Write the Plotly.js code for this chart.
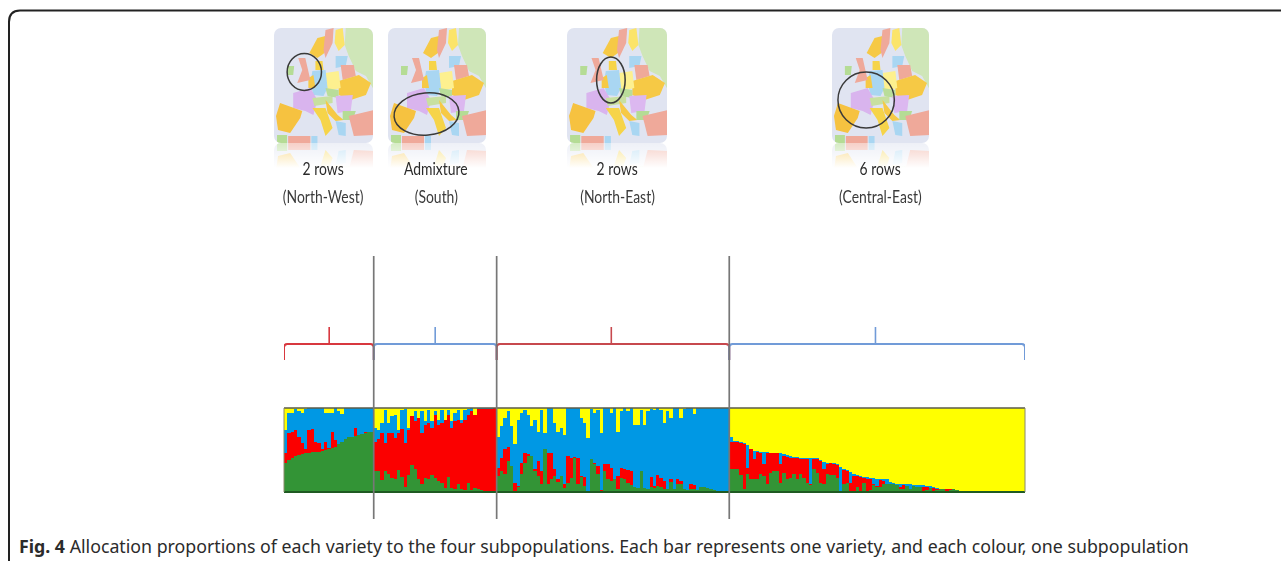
<!DOCTYPE html>
<html>
<head>
<meta charset="utf-8">
<script src="https://cdn.plot.ly/plotly-3.0.1.min.js"></script>
<style>
html,body{margin:0;padding:0;background:#fff;overflow:hidden}#chart{width:1281px;height:561px}
.barlayer{filter:blur(0.55px)}
.annotation:not(:last-of-type){filter:blur(0.35px)}
.annotation:not(:last-of-type) .annotation-text{transform-box:fill-box;transform-origin:center;transform:scaleX(.82)}
</style>
</head>
<body>
<div id="chart"></div>
<script>
// Allocation (%) of each variety to the four subpopulations.
var green = [
 35,38,41,43,44,45,47,47,48,48,48,49,50,51,52,53,57,60,63,66,66,67,68,69,70,71,72,
 25,25,14,25,22,17,15,26,18,6,20,32,27,15,10,17,15,20,17,13,11,5,18,5,4,9,3,2,11,2,5,4,2,1,0,0,0,
 19,25,21,37,31,1,6,21,35,43,43,25,19,9,51,9,15,19,12,19,5,11,17,41,9,18,7,0,39,33,21,0,25,15,13,15,4,17,15,11,8,6,5,25,5,3,6,5,7,6,4,3,12,3,9,9,3,2,4,4,2,6,6,5,4,2,1,0,0,0,
 27,27,27,20,3,21,15,15,15,21,19,9,23,25,25,11,23,15,17,21,15,21,17,11,8,27,23,11,9,21,20,20,17,0,9,11,0,1,6,1,11,1,2,8,6,6,9,9,10,10,8,3,4,7,3,7,6,6,1,2,5,1,2,3,3,1,2,3,2,1,1,1,0,0,0,0,0,0,0,0,0,0,0,0,0,0,0,0,0
];
var red = [
 12,32,31,31,22,13,4,27,27,12,10,2,10,1,20,9,0,0,0,0,0,9,0,0,2,0,0,
 35,38,56,33,48,53,49,44,57,52,54,58,57,73,60,63,67,56,75,67,71,81,74,71,80,77,79,84,81,94,87,95,97,98,99,99,100,
 10,16,30,17,0,10,1,14,12,2,0,2,18,16,0,38,32,8,3,0,4,32,24,1,32,1,11,1,0,2,10,2,8,18,16,0,15,12,12,15,17,0,0,0,0,0,12,2,13,11,9,0,3,1,6,4,0,0,5,4,0,0,0,0,0,0,0,0,0,0,
 33,33,32,38,54,8,36,24,33,26,14,38,24,22,22,22,20,27,24,19,26,18,22,28,1,12,16,26,18,12,14,13,15,1,17,14,11,18,13,17,6,15,13,1,1,8,4,1,0,0,0,3,4,0,0,0,0,0,5,4,0,4,2,0,0,2,1,0,0,0,0,0,0,0,0,0,0,0,0,0,0,0,0,0,0,0,0,0,0
];
var blue = [
 27,24,22,25,31,36,48,26,25,40,42,49,34,42,22,38,39,33,37,34,34,24,32,31,28,29,28,
 16,11,12,40,12,20,28,4,23,41,2,0,12,0,26,5,16,8,4,6,16,0,6,8,10,12,4,12,7,4,0,1,1,1,1,1,0,
 37,37,37,42,47,46,79,59,51,47,35,59,35,73,19,53,53,55,57,57,59,57,59,58,59,69,64,63,60,59,67,68,67,67,65,85,53,67,73,71,75,74,75,73,75,93,81,91,80,81,69,93,73,96,85,75,96,98,91,85,98,94,94,95,96,98,99,100,100,100,
 6,1,2,1,1,27,0,10,1,1,15,1,0,0,0,13,2,2,2,2,1,2,1,1,31,1,1,1,9,2,1,1,1,29,1,1,13,3,1,1,1,2,2,8,9,2,2,5,2,1,2,4,1,2,6,1,2,2,2,1,2,1,1,1,1,1,1,0,0,0,0,0,0,0,0,0,0,0,0,0,0,0,0,0,0,0,0,0,0
];
var yellow = [
 26,6,6,1,3,6,1,0,0,0,0,0,6,6,6,0,4,7,0,0,0,0,0,0,0,0,0,
 24,26,18,2,18,10,8,26,2,1,24,10,4,12,4,15,2,16,4,14,2,14,2,16,6,2,14,2,1,0,8,0,0,0,0,0,0,
 34,22,12,4,22,43,14,6,2,8,22,14,28,2,30,0,0,18,28,24,32,0,0,0,0,12,18,36,1,6,2,30,0,0,6,0,28,4,0,3,0,20,20,2,20,4,1,2,0,2,18,4,12,0,0,12,1,0,0,7,0,0,0,0,0,0,0,0,0,0,
 34,39,39,41,42,44,49,51,51,52,52,52,53,53,53,54,55,56,57,58,58,59,60,60,60,60,60,62,64,65,65,66,67,70,73,74,76,78,80,81,82,82,83,83,84,84,85,85,88,89,90,90,91,91,91,92,92,92,92,93,93,94,95,96,96,96,96,97,98,99,99,99,100,100,100,100,100,100,100,100,100,100,100,100,100,100,100,100,100
];
var groupEnds = [27, 64, 134, 223];
var groupTitles = ['2 rows', 'Admixture', '2 rows', '6 rows'];
var groupRegions = ['(North-West)', '(South)', '(North-East)', '(Central-East)'];
var caption = '<b>Fig. 4</b> Allocation proportions of each variety to the four subpopulations. Each bar represents one variety, and each colour, one subpopulation';

var W = 1281, H = 561;
function px(v){ return v / W; }
function py(v){ return 1 - v / H; }
var plotL = 284, plotR = 1025, plotT = 408, plotB = 492;

var xs = green.map(function(_, i){ return i + 0.5; });
function bars(name, vals, col){
  return {type:'bar', name:name, x:xs, y:vals, width:1, marker:{color:col, line:{width:0}}, hoverinfo:'skip'};
}
var traces = [
  bars('Subpopulation 1', green, '#339436'),
  bars('Subpopulation 2', red, '#fb0000'),
  bars('Subpopulation 3', blue, '#0098e4'),
  bars('Subpopulation 4', yellow, '#ffff00')
];

// stylised map thumbnails, drawn once and re-used
var regions = [
 ['#cfe6b8','M71 0 L99 0 L99 62 L91 48 L81 43 L74 28 L70 17Z'],
 ['#f6c945','M35 25 L43 10 L51 8 L50 25 L43 30Z'],
 ['#efa99a','M51 2 L59 0 L58 15 L51 30 L49 22Z'],
 ['#fbe46a','M61 2 L68 0 L70 17 L64 23 L60 15Z'],
 ['#a9d6f2','M61 28 L73 28 L71 38 L61 40Z'],
 ['#efa99a','M66 37 L79 37 L81 48 L68 52Z'],
 ['#f6c945','M64 53 L84 47 L96 55 L91 67 L76 72 L64 67Z'],
 ['#fdf08f','M51 45 L64 43 L66 60 L53 63Z'],
 ['#a9d6f2','M38 43 L51 42 L53 60 L49 68 L39 67 L36 55Z'],
 ['#f6d44a','M41 33 L48 33 L49 42 L41 42Z'],
 ['#f6c945','M34 50 L39 47 L41 60 L34 60Z'],
 ['#efa99a','M24 30 L31 30 L36 52 L23 55 L28 42Z'],
 ['#b5dc95','M13 38 L20 38 L19 47 L13 47Z'],
 ['#d9b4ee','M19 65 L36 60 L43 72 L39 87 L31 83 L19 80Z'],
 ['#f6c23f','M6 75 L28 83 L26 90 L16 105 L4 102 L2 88Z'],
 ['#c8e0a0','M38 70 L58 68 L58 75 L40 78Z'],
 ['#b9dd9a','M51 60 L64 62 L64 70 L53 68Z'],
 ['#f6d44a','M38 80 L51 80 L58 100 L51 108 L46 92Z'],
 ['#dcb8f0','M61 68 L78 67 L76 83 L63 85Z'],
 ['#f6c945','M51 72 L63 87 L69 92 L61 93 L53 85Z'],
 ['#b5dc95','M68 83 L81 83 L78 92 L68 92Z'],
 ['#a9d6f2','M61 93 L71 95 L71 108 L64 107Z'],
 ['#efa99a','M74 88 L99 82 L99 107 L79 108Z'],
 ['#b5dc95','M3 107 L13 107 L13 115 L3 115Z'],
 ['#efa99a','M14 108 L36 108 L36 115 L14 115Z'],
 ['#a9d6f2','M37 108 L43 108 L43 115 L37 115Z']
];
function tile(cx, cy, rx, ry, tilt){
  var shapes = regions.map(function(r){ return '<path d="'+r[1]+'" fill="'+r[0]+'"/>'; }).join('');
  var body = '<g clip-path="url(#c)"><rect width="98" height="115" fill="#e0e4f1"/><g filter="url(#b)">'+shapes+'</g></g>';
  var svg = '<svg xmlns="http://www.w3.org/2000/svg" xmlns:xlink="http://www.w3.org/1999/xlink" width="392" height="560" viewBox="0 0 98 140">'+
   '<defs><clipPath id="c"><rect width="98" height="115" rx="7" ry="7"/></clipPath>'+
   '<filter id="b" x="-5%" y="-5%" width="110%" height="110%"><feGaussianBlur stdDeviation="0.45"/></filter>'+
   '<linearGradient id="g" x1="0" y1="0" x2="0" y2="1"><stop offset="0" stop-color="#fff" stop-opacity="0.45"/><stop offset="1" stop-color="#fff" stop-opacity="1"/></linearGradient></defs>'+
   '<g transform="translate(0,230) scale(1,-1)">'+body+'</g>'+
   '<rect y="115" width="98" height="25" fill="url(#g)"/>'+body+
   '<ellipse cx="'+cx+'" cy="'+cy+'" rx="'+rx+'" ry="'+ry+'" transform="rotate('+tilt+' '+cx+' '+cy+')" fill="none" stroke="#3a3a3a" stroke-width="1.5"/>'+
   '</svg>';
  return 'data:image/svg+xml;charset=utf-8,' + encodeURIComponent(svg);
}
var tiles = [
  {x:274, w:99,  e:[30,44,17,18.5,0]},
  {x:388, w:98,  e:[38.5,86,32.5,21,-5]},
  {x:567, w:100, e:[43,52,14,23,0]},
  {x:832, w:97,  e:[34.5,72,28.5,28,0]}
];
var images = tiles.map(function(t){
  return {source:tile(t.e[0],t.e[1],t.e[2],t.e[3],t.e[4]), xref:'paper', yref:'paper',
    x:px(t.x), y:py(28), sizex:px(t.w), sizey:140/H, xanchor:'left', yanchor:'top', sizing:'stretch', layer:'below'};
});

// text
var labelX = [323, 436, 617, 880];
var annotations = [];
function note(x, y, text, size, col, anchor, family){
  annotations.push({xref:'paper', yref:'paper', x:px(x), y:py(y), text:text, showarrow:false,
    xanchor:anchor||'center', yanchor:'middle', align:'left',
    font:{family:family||'Lato, sans-serif', size:size, color:col}});
}
groupTitles.forEach(function(t,i){ note(labelX[i], 168, t, 17, '#2b2b2b'); });
groupRegions.forEach(function(t,i){ note(labelX[i], 197, t, 17, '#3a3a3a'); });
note(17, 546, caption, 17.75, '#2b2b2b', 'left', '"Noto Sans", sans-serif');

// brackets and separators, positioned on the bar axis
var shapes = [];
var starts = [0].concat(groupEnds.slice(0,3));
var bracketCol = ['#d8383f','#719bd8','#c7484e','#719bd8'];
var tickAt = [13.6, 45.5, 98.5, 178];
groupEnds.forEach(function(end,i){
  var a = starts[i], b = end;
  var ya = py(360), yb = py(344), yr = py(347.5), yt = py(327);
  var bend = 1;
  shapes.push({type:'path', xref:'x', yref:'paper', layer:'above', line:{color:bracketCol[i], width:2},
    path:'M '+a+' '+ya+' L '+a+' '+yr+' Q '+a+' '+yb+' '+(a+bend)+' '+yb+' L '+(b-bend)+' '+yb+' Q '+b+' '+yb+' '+b+' '+yr+' L '+b+' '+ya});
  shapes.push({type:'line', xref:'x', yref:'paper', layer:'above', line:{color:bracketCol[i], width:1.6},
    x0:tickAt[i], x1:tickAt[i], y0:yb, y1:yt});
});
// plot outline
shapes.push({type:'line', xref:'paper', yref:'paper', x0:px(plotL), x1:px(plotR), y0:py(plotB), y1:py(plotB), layer:'above', line:{color:'#1f5a22', width:2}});
shapes.push({type:'line', xref:'paper', yref:'paper', x0:px(plotL), x1:px(plotR), y0:py(plotT), y1:py(plotT), layer:'above', line:{color:'#5b5b4a', width:1.6}});
shapes.push({type:'line', xref:'paper', yref:'paper', x0:px(plotL), x1:px(plotL), y0:py(plotT), y1:py(plotB), layer:'above', line:{color:'#8a8a6a', width:1}});
shapes.push({type:'line', xref:'paper', yref:'paper', x0:px(plotR), x1:px(plotR), y0:py(plotT), y1:py(plotB), layer:'above', line:{color:'#8a8a6a', width:1}});
groupEnds.slice(0,3).forEach(function(end){
  shapes.push({type:'line', xref:'x', yref:'paper', x0:end, x1:end, y0:py(256), y1:py(519), layer:'above', line:{color:'#777', width:1.7}});
});
// page frame
shapes.push({type:'path', xref:'paper', yref:'paper', layer:'above', line:{color:'#222', width:2},
  path:'M '+px(9)+' '+py(561)+' L '+px(9)+' '+py(22)+' Q '+px(9)+' '+py(10.5)+' '+px(20)+' '+py(10.5)+' L '+px(1281)+' '+py(10.5)});

var layout = {
  width:W, height:H, margin:{l:0,r:0,t:0,b:0}, paper_bgcolor:'#fff', plot_bgcolor:'#fff',
  showlegend:false, barmode:'stack', bargap:0,
  xaxis:{domain:[px(plotL),px(plotR)], range:[0,223], visible:false, fixedrange:true},
  yaxis:{domain:[py(plotB),py(plotT)], range:[0,100], visible:false, fixedrange:true},
  images:images, annotations:annotations, shapes:shapes
};
Plotly.newPlot('chart', traces, layout, {displayModeBar:false, staticPlot:true});
</script>
</body>
</html>
